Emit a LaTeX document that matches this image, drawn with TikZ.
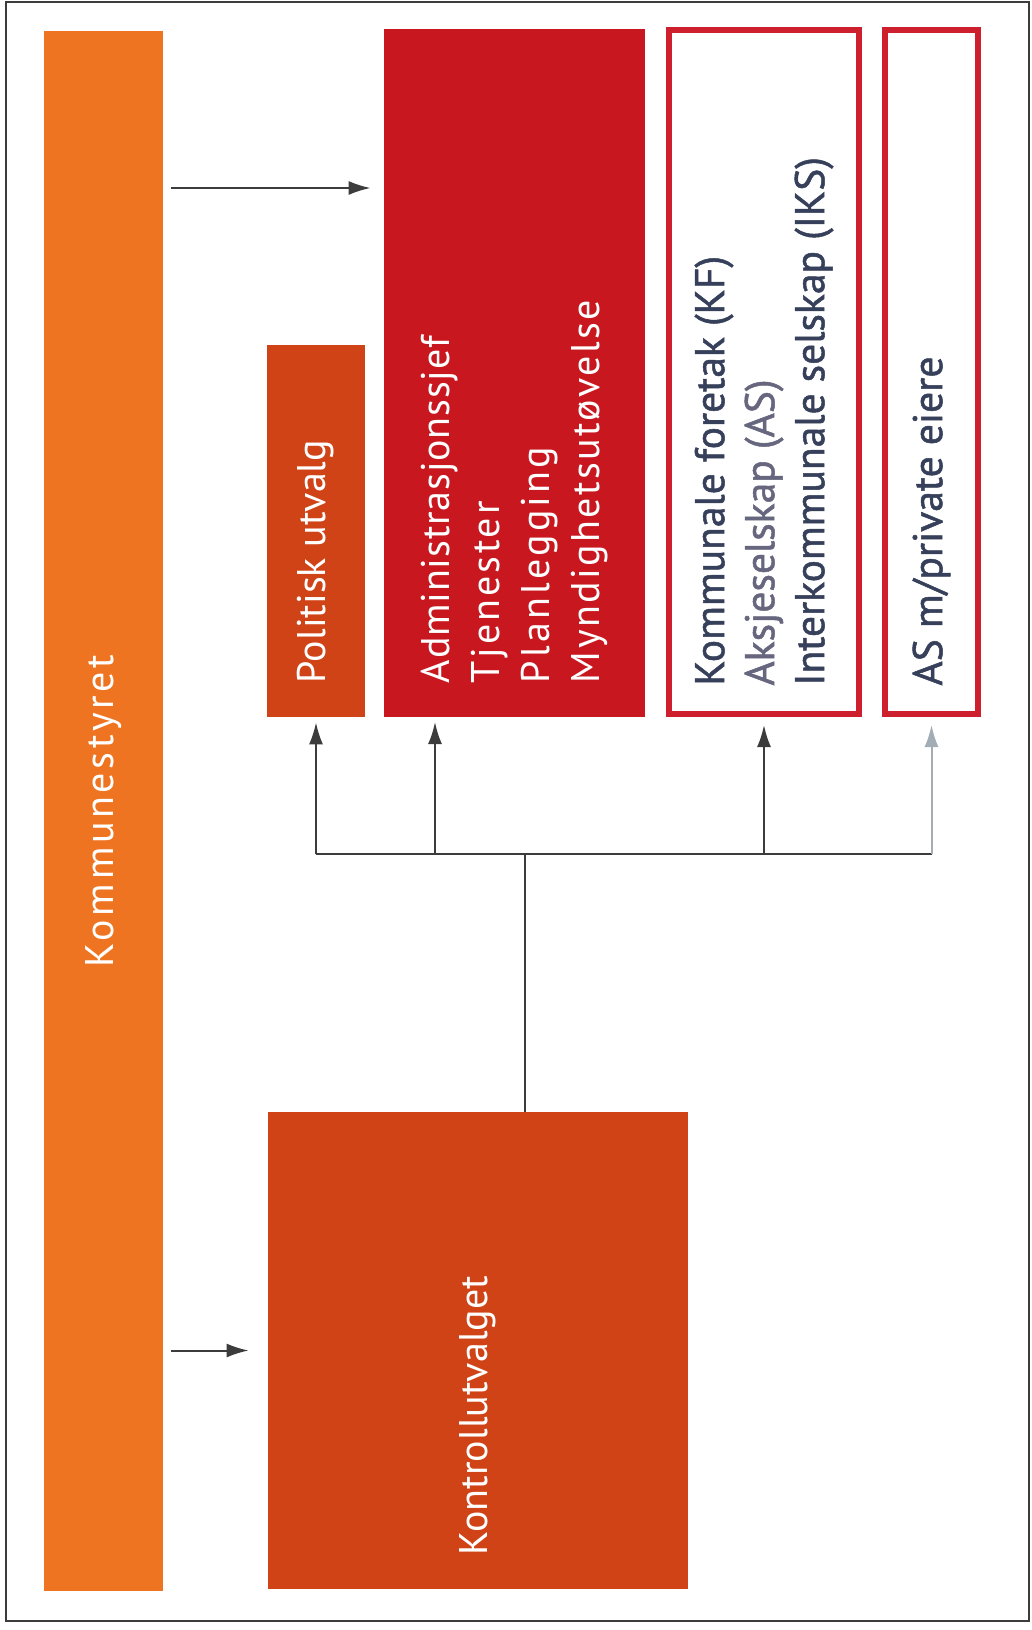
\documentclass[tikz,border=0pt]{standalone}
\usepackage{fontspec}
\setmainfont{PT Sans}
\definecolor{KommuneOrange}{HTML}{EF7421}
\definecolor{KommuneRust}{HTML}{D04317}
\definecolor{KommuneRed}{HTML}{C8171F}
\definecolor{KommuneFrame}{HTML}{CD1F2D}
\definecolor{KommuneInk}{HTML}{36405A}
\definecolor{KommuneInkLight}{HTML}{66667E}
\definecolor{KommuneLine}{HTML}{3C3C3C}
\definecolor{KommuneLineLight}{HTML}{A2ADB5}
\definecolor{KommuneWhite}{HTML}{FFFFFF}
\usetikzlibrary{arrows.meta, positioning, calc}
\newcommand{\spaced}[2]{{\addfontfeature{LetterSpace=#1}#2}}
\tikzset{
    % Text size for all nodes
    every node/.style={font=\fontsize{20}{25}\selectfont},
    % Filled block
    block/.style={
        rectangle,
        inner sep=0pt
    },
    % Outlined block
    frameblock/.style={
        rectangle,
        draw=KommuneFrame,
        fill=KommuneWhite,
        line width=3pt,
        inner sep=0pt
    },
    % Rotated white text
    whitetext/.style={
        rotate=90,
        align=left,
        inner sep=0pt,
        text=KommuneWhite
    },
    % Rotated dark text
    inktext/.style={
        rotate=90,
        align=left,
        inner sep=0pt,
        text=KommuneInk,
        font=\fontsize{20.8}{25}\selectfont\addfontfeature{FakeBold=1.2}
    },
    % Plain line
    link/.style={
        line width=1pt,
        color=KommuneLine
    },
    % Arrow style
    arrow/.style={
        -{Latex[length=11pt,width=7pt]},
        line width=1pt,
        color=KommuneLine
    }
}
\begin{document}
\begin{tikzpicture}[x=0.5pt, y=-0.5pt]
    \useasboundingbox (0,0) rectangle (1032,1630);
    \draw[KommuneLine, line width=1pt] (6,2) rectangle (1029,1621);

    % Blocks
    \node (kommunestyret) [block, fill=KommuneOrange, minimum width=59.5pt, minimum height=780pt] at (103.5,811) {};
    \node (politisk) [block, fill=KommuneRust, minimum width=49pt, minimum height=186pt] at (316,531) {};
    \node (admin) [block, fill=KommuneRed, minimum width=130.5pt, minimum height=344pt] at (514.5,373) {};
    \node (selskap) [frameblock, minimum width=95pt, minimum height=342pt] at (764,372) {};
    \node (privat) [frameblock, minimum width=46.5pt, minimum height=342pt] at (931.5,372) {};
    \node (kontroll) [block, fill=KommuneRust, minimum width=210pt, minimum height=238.5pt] at (478,1350.5) {};

    % Texts
    \node (kommunestyret-text) [whitetext] at (kommunestyret.center) {\spaced{9}{Kommunestyret}};
    \node (politisk-text) [whitetext, anchor=west] at ([yshift=17pt]politisk.south) {Politisk utvalg};
    \node (admin-text) [whitetext, anchor=west] at ([yshift=17pt]admin.south) {\spaced{2}{Administrasjonssjef}\\\spaced{7}{Tjenester}\\\spaced{8}{Planlegging}\\\spaced{6}{Myndighetsutøvelse}};
    \node (selskap-text) [inktext, anchor=west] at ([yshift=15.5pt]selskap.south) {Kommunale foretak (KF)\\\textcolor{KommuneInkLight}{Aksjeselskap (AS)}\\Interkommunale selskap (IKS)};
    \node (privat-text) [inktext, anchor=west] at ([yshift=15.5pt]privat.south) {AS m/private eiere};
    \node (kontroll-text) [whitetext, anchor=west] at ([yshift=17pt]kontroll.south) {Kontrollutvalget};

    % Connectors
    \coordinate (top-row) at (0,188);
    \coordinate (fork) at (525,854);
    \coordinate (admin-in) at (435,717);
    \draw[arrow, shorten <=4pt, shorten >=6.5pt] (kommunestyret.east |- top-row) -- (admin.west |- top-row);
    \draw[arrow, shorten <=4pt, shorten >=9.5pt] (kommunestyret.east |- kontroll.west) -- (kontroll.west);
    \draw[link] (kontroll.north -| fork) -- (fork);
    \draw[link] (fork -| politisk.south) -- (fork -| privat.south);
    \draw[arrow, shorten >=2.5pt] (fork -| politisk.south) -- (politisk.south);
    \draw[arrow, shorten >=2.5pt] (fork -| admin-in) -- (admin-in);
    \draw[arrow, shorten >=4pt] (fork -| selskap.south) -- (selskap.south);
    \draw[arrow, color=KommuneLineLight, shorten >=4pt] (fork -| privat.south) -- (privat.south);
\end{tikzpicture}
\end{document}
